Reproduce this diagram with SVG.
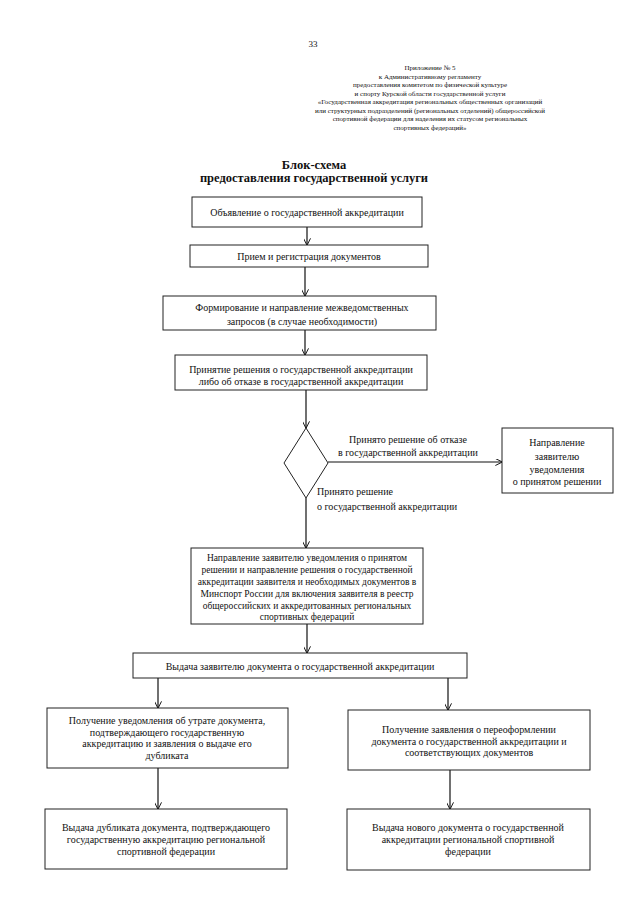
<svg xmlns="http://www.w3.org/2000/svg" width="639" height="905" viewBox="0 0 639 905">
<style>
text{font-family:"Liberation Serif","Times New Roman",serif;fill:#111}
.b{fill:#fff;stroke:#222;stroke-width:1}
.t{font-size:10px;text-anchor:middle}
.s{font-size:9.5px}
.h{font-size:7px;text-anchor:middle}
.l{font-size:10px}
.c{stroke:#111;stroke-width:1.2;fill:none}
</style>
<defs>
<marker id="a" viewBox="0 0 10 10" refX="9.5" refY="5" markerWidth="7" markerHeight="7" orient="auto" markerUnits="userSpaceOnUse">
<polyline points="0,0 10,5 0,10" fill="none" stroke="#111" stroke-width="1.4"/>
</marker>
</defs>
<rect width="639" height="905" fill="#fff"/>
<text x="313" y="47" style="font-size:9px;text-anchor:middle">33</text>
<g id="header">
<text class="h" x="430" y="70">Приложение № 5</text>
<text class="h" x="430" y="79">к Административному регламенту</text>
<text class="h" x="430" y="87">предоставления комитетом по физической культуре</text>
<text class="h" x="430" y="96">и спорту Курской области государственной услуги</text>
<text class="h" x="430" y="104">«Государственная аккредитация региональных общественных организаций</text>
<text class="h" x="430" y="113">или структурных подразделений (региональных отделений) общероссийской</text>
<text class="h" x="430" y="121">спортивной федерации для наделения их статусом региональных</text>
<text class="h" x="430" y="130">спортивных федераций»</text>
</g>
<g id="title">
<text x="314" y="169" style="font-size:12.5px;font-weight:bold;text-anchor:middle">Блок-схема</text>
<text x="314" y="182" style="font-size:12.5px;font-weight:bold;text-anchor:middle">предоставления государственной услуги</text>
</g>
<g id="connectors">
<line class="c" x1="307" y1="227" x2="307" y2="245" marker-end="url(#a)"/>
<line class="c" x1="305" y1="267" x2="305" y2="296" marker-end="url(#a)"/>
<line class="c" x1="305" y1="330" x2="305" y2="355" marker-end="url(#a)"/>
<line class="c" x1="306" y1="390" x2="306" y2="428" marker-end="url(#a)"/>
<line class="c" x1="328" y1="462" x2="502" y2="462" marker-end="url(#a)"/>
<line class="c" x1="306" y1="498" x2="306" y2="548" marker-end="url(#a)"/>
<line class="c" x1="307" y1="624" x2="307" y2="653" marker-end="url(#a)"/>
<line class="c" x1="158" y1="678" x2="158" y2="708" marker-end="url(#a)"/>
<line class="c" x1="448" y1="678" x2="448" y2="710" marker-end="url(#a)"/>
<line class="c" x1="158" y1="768" x2="158" y2="809" marker-end="url(#a)"/>
<line class="c" x1="450" y1="770" x2="450" y2="809" marker-end="url(#a)"/>
<text class="l" x="408" y="443" text-anchor="middle">Принято решение об отказе</text>
<text class="l" x="408" y="456" text-anchor="middle">в государственной аккредитации</text>
<text class="l" x="317" y="495">Принято решение</text>
<text class="l" x="317" y="510">о государственной аккредитации</text>
</g>
<g id="n1">
<rect class="b" x="192" y="197" width="230" height="30"/>
<text class="t" x="307" y="216">Объявление о государственной аккредитации</text>
</g>
<g id="n2">
<rect class="b" x="190" y="245" width="238" height="22"/>
<text class="t" x="309" y="260">Прием и регистрация документов</text>
</g>
<g id="n3">
<rect class="b" x="163" y="296" width="273" height="34"/>
<text class="t" x="302" y="311">Формирование и направление межведомственных</text>
<text class="t" x="302" y="325">запросов (в случае необходимости)</text>
</g>
<g id="n4">
<rect class="b" x="175" y="355" width="252" height="35"/>
<text class="t" x="301" y="373">Принятие решения о государственной аккредитации</text>
<text class="t" x="301" y="385">либо об отказе в государственной аккредитации</text>
</g>
<g id="d1">
<polygon class="b" points="306,428 328,463 306,498 284,463"/>
</g>
<g id="n5">
<rect class="b" x="502" y="428" width="111" height="65"/>
<text class="t" x="557" y="446">Направление</text>
<text class="t" x="557" y="460">заявителю</text>
<text class="t" x="557" y="473">уведомления</text>
<text class="t" x="557" y="485">о принятом решении</text>
</g>
<g id="n6">
<rect class="b" x="191" y="548" width="232" height="76"/>
<text class="t s" x="307" y="561">Направление заявителю уведомления о принятом</text>
<text class="t s" x="307" y="573">решении и направление решения о государственной</text>
<text class="t s" x="307" y="585">аккредитации заявителя и необходимых документов в</text>
<text class="t s" x="307" y="597">Минспорт России для включения заявителя в реестр</text>
<text class="t s" x="307" y="609">общероссийских и аккредитованных региональных</text>
<text class="t s" x="307" y="620">спортивных федераций</text>
</g>
<g id="n7">
<rect class="b" x="133" y="653" width="334" height="25"/>
<text class="t" x="300" y="670">Выдача заявителю документа о государственной аккредитации</text>
</g>
<g id="n8">
<rect class="b" x="47" y="708" width="241" height="60"/>
<text class="t" x="167" y="724">Получение уведомления об утрате документа,</text>
<text class="t" x="167" y="736">подтверждающего государственную</text>
<text class="t" x="167" y="747">аккредитацию и заявления о выдаче его</text>
<text class="t" x="167" y="759">дубликата</text>
</g>
<g id="n9">
<rect class="b" x="348" y="710" width="242" height="60"/>
<text class="t" x="469" y="733">Получение заявления о переоформлении</text>
<text class="t" x="469" y="745">документа о государственной аккредитации и</text>
<text class="t" x="469" y="756">соответствующих документов</text>
</g>
<g id="n10">
<rect class="b" x="45" y="809" width="242" height="60"/>
<text class="t" x="166" y="831">Выдача дубликата документа, подтверждающего</text>
<text class="t" x="166" y="843">государственную аккредитацию региональной</text>
<text class="t" x="166" y="855">спортивной федерации</text>
</g>
<g id="n11">
<rect class="b" x="347" y="809" width="243" height="61"/>
<text class="t" x="468" y="831">Выдача нового документа о государственной</text>
<text class="t" x="468" y="843">аккредитации региональной спортивной</text>
<text class="t" x="468" y="855">федерации</text>
</g>
</svg>
